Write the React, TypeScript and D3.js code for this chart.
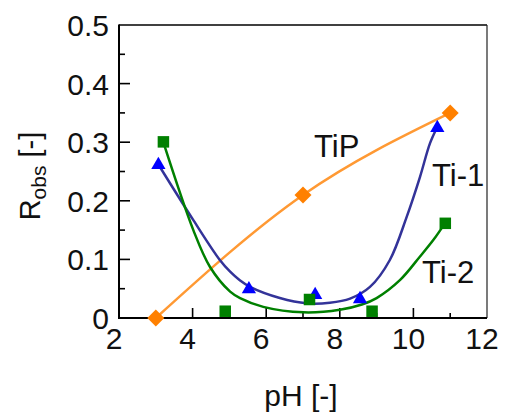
import React from "react";
import * as d3 from "d3";

// Measured data points
const tipPH = [3.0, 7.0, 11.0];
const tipR = [0.0, 0.21, 0.35];

const ti1PH = [3.07, 5.53, 7.33, 8.55, 10.65];
const ti1R = [0.263, 0.051, 0.041, 0.034, 0.326];

const ti2PH = [3.2, 4.88, 7.17, 8.87, 10.86];
const ti2R = [0.301, 0.012, 0.032, 0.012, 0.162];

// Fitted curves
const ti1FitPH = [3.07, 4.02, 4.74, 5.02, 5.29, 5.56, 6.37, 7.1, 7.73, 8.28, 8.82, 9.36, 9.82, 10.18, 10.45, 10.65];
const ti1FitR = [0.262, 0.167, 0.099, 0.079, 0.064, 0.053, 0.034, 0.025, 0.026, 0.033, 0.053, 0.099, 0.173, 0.241, 0.298, 0.326];

const ti2FitPH = [3.2, 4.02, 4.47, 5.02, 5.29, 5.92, 7.01, 8.0, 8.6, 9.0, 9.64, 10.18, 10.54, 10.86];
const ti2FitR = [0.301, 0.15, 0.0875, 0.045, 0.034, 0.019, 0.0097, 0.014, 0.023, 0.034, 0.065, 0.105, 0.133, 0.162];

const xTicks = [2, 4, 6, 8, 10, 12];
const xMinor = [3, 5, 7, 9, 11];
const yTicks = [0, 0.1, 0.2, 0.3, 0.4, 0.5];
const yMinor = [0.05, 0.15, 0.25, 0.35, 0.45];

const W = 507;
const H = 412;
const L = 119;
const R = 487;
const T = 25;
const B = 318;
const FONT = "'Liberation Sans', Arial, sans-serif";

export default function App() {
  const x = d3.scaleLinear().domain([2, 12]).range([L, R]);
  const y = d3.scaleLinear().domain([0, 0.5]).range([B, T]);

  const line = d3
    .line<[number, number]>()
    .x((d) => x(d[0]))
    .y((d) => y(d[1]))
    .curve(d3.curveCatmullRom.alpha(0.5));

  const tipLine = d3
    .line<[number, number]>()
    .x((d) => x(d[0]))
    .y((d) => y(d[1]))
    .curve(d3.curveNatural);

  const zip = (a: number[], b: number[]) => a.map((v, i) => [v, b[i]] as [number, number]);

  const tri = d3.symbol().type(d3.symbolTriangle).size(88)();

  return (
    <svg
      width={W}
      height={H}
      style={{ position: "absolute", left: 0, top: 0, background: "#fff" }}
      fontFamily={FONT}
    >
      {/* frame */}
      <line x1={L} x2={R} y1={T} y2={T} stroke="#000" strokeWidth={1.5} />
      <line x1={R} x2={R} y1={T} y2={B} stroke="#222" strokeWidth={1.2} />
      <line x1={L} x2={L} y1={T - 0.5} y2={B + 1} stroke="#000" strokeWidth={2} />
      <line x1={L - 1} x2={R} y1={B} y2={B} stroke="#000" strokeWidth={2} />

      {/* y ticks */}
      {yTicks.slice(1, -1).map((t) => (
        <line key={"yt" + t} x1={L} x2={L + 11} y1={y(t)} y2={y(t)} stroke="#000" strokeWidth={1.6} />
      ))}
      {yMinor.map((t) => (
        <line key={"ym" + t} x1={L} x2={L + 6} y1={y(t)} y2={y(t)} stroke="#000" strokeWidth={1.6} />
      ))}
      {yTicks.map((t) => (
        <text key={"yl" + t} x={L - 10} y={y(t) + 11} fontSize={30} textAnchor="end" fill="#111">
          {t === 0 ? "0" : t.toFixed(1)}
        </text>
      ))}

      {/* x ticks */}
      {xTicks.slice(1, -1).map((t) => (
        <line key={"xt" + t} x1={x(t)} x2={x(t)} y1={B} y2={B - 10} stroke="#000" strokeWidth={1.6} />
      ))}
      {xMinor.map((t) => (
        <line key={"xm" + t} x1={x(t)} x2={x(t)} y1={B} y2={B - 5} stroke="#000" strokeWidth={1.6} />
      ))}
      {xTicks.map((t) => (
        <text key={"xl" + t} x={x(t) - 5} y={349} fontSize={30} textAnchor="middle" fill="#111">
          {t}
        </text>
      ))}

      {/* axis titles */}
      <text x={301} y={406} fontSize={30} textAnchor="middle" fill="#111">
        pH [-]
      </text>
      <text transform="translate(40,176) rotate(-90)" fontSize={29} textAnchor="middle" fill="#111">
        R
        <tspan fontSize={21} dy={6}>obs</tspan>
        <tspan dy={-6}> [-]</tspan>
      </text>

      {/* curves */}
      <path d={tipLine(zip(tipPH, tipR)) || ""} fill="none" stroke="#ff9933" strokeWidth={2.5} />
      <path d={line(zip(ti1FitPH, ti1FitR)) || ""} fill="none" stroke="#333399" strokeWidth={2.5} />
      <path d={line(zip(ti2FitPH, ti2FitR)) || ""} fill="none" stroke="#008000" strokeWidth={2.5} />

      {/* markers */}
      {tipPH.map((p, i) => (
        <rect
          key={"d" + i}
          x={-6}
          y={-6}
          width={12}
          height={12}
          fill="#ff8000"
          transform={`translate(${x(p)},${y(tipR[i])}) rotate(45)`}
        />
      ))}
      {ti1PH.map((p, i) => (
        <path key={"t" + i} d={tri || ""} fill="#0000ff" transform={`translate(${x(p)},${y(ti1R[i]) + 1})`} />
      ))}
      {ti2PH.map((p, i) => (
        <rect key={"s" + i} x={x(p) - 5.5} y={y(ti2R[i]) - 5.5} width={11.5} height={11.5} fill="#008000" />
      ))}

      {/* series labels */}
      <text x={314} y={157} fontSize={31} fill="#111">TiP</text>
      <text x={432} y={186} fontSize={31} fill="#111">Ti-1</text>
      <text x={422} y={283} fontSize={31} fill="#111">Ti-2</text>
    </svg>
  );
}
